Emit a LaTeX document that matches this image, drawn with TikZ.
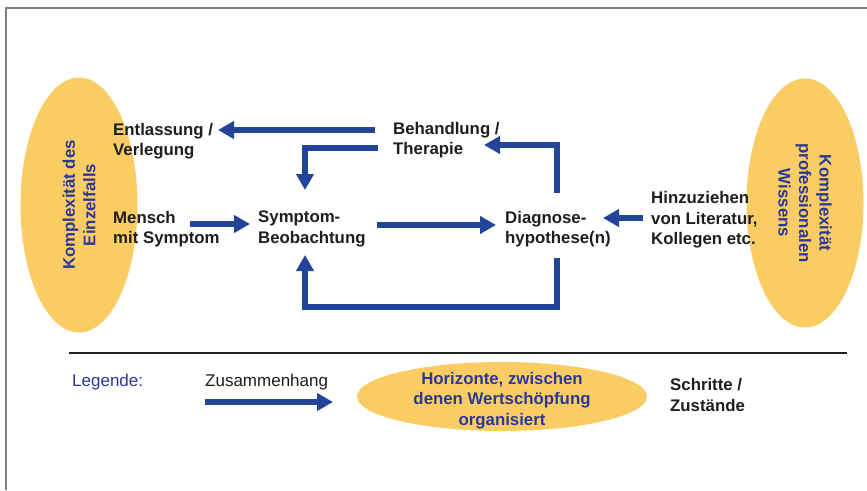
\documentclass[tikz,border=0pt]{standalone}
\usepackage{fontspec}
\setmainfont{Liberation Sans}
\usetikzlibrary{arrows.meta,shapes.geometric}
\definecolor{ellfill}{RGB}{250,205,100}
\definecolor{arrblue}{RGB}{34,68,153}
\definecolor{txtblue}{RGB}{43,56,150}
\definecolor{txtdark}{RGB}{30,30,30}
\begin{document}
\begin{tikzpicture}[x=1pt,y=-1pt,
  lab/.style={font=\fontsize{16.8}{20.5}\selectfont\bfseries, align=left, anchor=west, inner sep=0pt, text=txtdark},
  leg/.style={font=\fontsize{17}{20.5}\selectfont, anchor=west, inner sep=0pt, text=txtdark},
  elltext/.style={font=\fontsize{16.8}{20.5}\selectfont\bfseries, align=center, inner sep=0pt, text=txtblue},
  arr/.style={draw=arrblue, line width=6pt, -{Triangle[length=16pt,width=17pt]}},
  horiz/.style={ellipse, fill=ellfill, inner sep=0pt},
]
\useasboundingbox (0,0) rectangle (867,490);
\fill[white] (0,0) rectangle (867,490);
% frame
\draw[gray, line width=2pt] (6,490) -- (6,8) -- (867,8);

% horizon ellipses
\node[horiz, minimum width=117pt, minimum height=255pt] (ellL) at (79,205) {};
\node[horiz, minimum width=117pt, minimum height=249pt] (ellR) at (805,203) {};
\node[elltext, rotate=90] (ellLtxt) at (ellL) {Komplexität des\\Einzelfalls};
\node[elltext, rotate=-90] (ellRtxt) at (ellR) {Komplexität\\professionalen\\Wissens};

% steps / states
\node[lab] (entl) at (113,141) {Entlassung /\\Verlegung};
\node[lab] (beh) at (393,140) {Behandlung /\\Therapie};
\node[lab] (mensch) at (113,229) {Mensch\\mit Symptom};
\node[lab] (sympt) at (258,229) {Symptom-\\Beobachtung};
\node[lab] (diag) at (505,229) {Diagnose-\\hypothese(n)};
\node[lab] (hinz) at (651,220) {Hinzuziehen\\von Literatur,\\Kollegen etc.};

% connections
\draw[arr] ([shift={(-18pt,10pt)}]beh.west) -- ([shift={(105pt,11pt)}]entl.west);
\draw[arr] ([shift={(-15pt,-8pt)}]beh.west) -| ([shift={(47pt,39pt)}]sympt.west);
\draw[arr] ([shift={(77pt,5pt)}]mensch.west) -- ([shift={(-8pt,5pt)}]sympt.west);
\draw[arr] ([shift={(119pt,4pt)}]sympt.west) -- ([shift={(-9pt,4pt)}]diag.west);
\draw[arr] ([shift={(52pt,36pt)}]diag.west) |- ([shift={(91pt,-5pt)}]beh.west);
\draw[arr] ([shift={(52pt,-29pt)}]diag.west) -- ++(0,49) -| ([shift={(47pt,-26pt)}]sympt.west);
\draw[arr] ([shift={(-8pt,2pt)}]hinz.west) -- ([shift={(98pt,11pt)}]diag.west);

% legend
\draw[line width=2pt, txtdark] (69,353) -- (847,353);
\node[leg, text=txtblue] (legende) at (72,382) {Legende:};
\node[leg] (zus) at (205,382) {Zusammenhang};
\draw[arr] ([yshift=-20pt]zus.west) -- ([shift={(128pt,-20pt)}]zus.west);
\node[horiz, minimum width=290pt, minimum height=69pt] (hor) at (502,396.5) {};
\node[elltext] (hortxt) at ([yshift=-4pt]hor.center) {Horizonte, zwischen\\denen Wertschöpfung\\organisiert};
\node[lab] (schr) at (670,395) {Schritte /\\Zustände};
\end{tikzpicture}
\end{document}
